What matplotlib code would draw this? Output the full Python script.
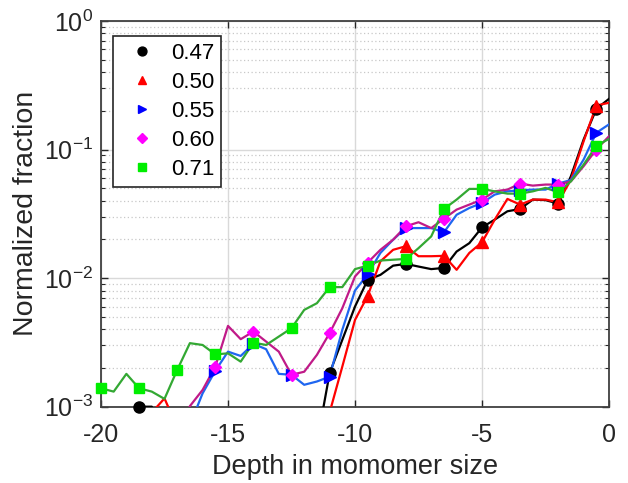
import numpy as np
import matplotlib
matplotlib.use("Agg")
import matplotlib.pyplot as plt

plt.rcParams['font.family'] = ['Liberation Sans', 'DejaVu Sans']
plt.rcParams['mathtext.fontset'] = 'custom'
plt.rcParams['mathtext.rm'] = 'Liberation Sans'
plt.rcParams['mathtext.it'] = 'Liberation Sans:italic'

nan = np.nan

# depth positions, every half monomer from -20 to 0
depth = np.arange(-20, 0.01, 0.5)

# normalized fractions (nan = not plotted)
f047 = [nan, nan, nan, 1.0e-3, 1.0e-3, 5e-4, nan, nan, nan, nan,
        nan, nan, nan, nan, nan, nan, nan, 5.2e-4, 1.82e-3, 3.31e-3,
        6.01e-3, 9.7e-3, 1.06e-2, 1.25e-2, 1.29e-2, 1.23e-2, 1.175e-2, 1.2e-2, 1.61e-2, 1.87e-2,
        2.48e-2, 2.85e-2, 3.31e-2, 3.45e-2, 4.08e-2, 4.04e-2, 3.8e-2, 6.2e-2, 0.1197, 0.207,
        0.248]
f050 = [nan, nan, nan, nan, 9e-4, 1.16e-3, 6.9e-4, nan, nan, nan,
        nan, nan, nan, nan, nan, nan, nan, nan, 9e-4, 2.05e-3,
        4.73e-3, 7.28e-3, 1.35e-2, 1.66e-2, 1.77e-2, 1.48e-2, 1.48e-2, 1.49e-2, 1.16e-2, 1.57e-2,
        1.9e-2, 2.85e-2, 4.13e-2, 3.73e-2, 4.08e-2, 4.08e-2, 3.89e-2, 5.84e-2, 0.116, 0.22,
        0.231]
f055 = [nan, nan, nan, nan, nan, nan, nan, 7.2e-4, 1.27e-3, 1.9e-3,
        2.68e-3, 2.48e-3, 3.08e-3, 2.8e-3, 1.8e-3, 1.77e-3, 1.48e-3, 1.57e-3, 1.71e-3, 3.96e-3,
        8.01e-3, 1.07e-2, 1.57e-2, 1.99e-2, 2.45e-2, 2.45e-2, 2.45e-2, 2.27e-2, 3.11e-2, 3.51e-2,
        3.84e-2, 4.46e-2, 4.73e-2, 4.82e-2, 4.88e-2, 4.88e-2, 5.43e-2, 5.8e-2, 8.36e-2, 0.135,
        0.157]
f060 = [nan, nan, nan, nan, nan, nan, 6e-4, 1.01e-3, 1.35e-3, 2.05e-3,
        4.25e-3, 3.35e-3, 3.84e-3, 3.21e-3, 2.68e-3, 1.77e-3, 1.87e-3, 2.53e-3, 3.73e-3, 5.83e-3,
        1.03e-2, 1.32e-2, 1.66e-2, 1.99e-2, 2.53e-2, 2.72e-2, 2.45e-2, 2.9e-2, 3.41e-2, 3.73e-2,
        4.08e-2, 4.73e-2, 4.88e-2, 5.43e-2, 5.24e-2, 5.34e-2, 5.34e-2, 5.66e-2, 7.42e-2, 0.1,
        0.127]
f071 = [1.39e-3, 1.31e-3, 1.8e-3, 1.39e-3, 1.31e-3, 1.15e-3, 1.93e-3, 3.12e-3, 3.02e-3, 2.55e-3,
        2.6e-3, 2.24e-3, 3.15e-3, 3.02e-3, 3.51e-3, 4.08e-3, 5.66e-3, 6.38e-3, 8.51e-3, 8.51e-3,
        1.175e-2, 1.25e-2, 1.37e-2, 1.39e-2, 1.41e-2, 1.71e-2, 2.11e-2, 3.45e-2, 4.08e-2, 4.94e-2,
        4.94e-2, 4.73e-2, 4.54e-2, 4.54e-2, 4.73e-2, 5.03e-2, 4.65e-2, 5.66e-2, 7.64e-2, 0.107,
        0.121]

labels = ['0.47', '0.50', '0.55', '0.60', '0.71']
series = [f047, f050, f055, f060, f071]
line_colors = ['black', 'red', '#1f66f0', '#c01a88', '#33a833']
marker_colors = ['black', 'red', 'blue', 'magenta', '#00ee00']
markers = ['o', '^', '>', 'D', 's']
msizes = [8, 8, 8, 6.5, 7]

fig = plt.figure(figsize=(6.28, 4.83), dpi=100)
ax = fig.add_axes([0.1608, 0.158, 0.809, 0.7986])

for vals, lc, mc, m, ms, lab in zip(series, line_colors, marker_colors, markers, msizes, labels):
    y = np.array(vals, dtype=float)
    ax.plot(depth, y, color=lc, lw=1.6, zorder=3)
    # markers every 1.5 monomer, only those inside the y range
    xm = depth[::3]
    ym = y[::3]
    ym = np.where(ym >= 1e-3, ym, nan)
    ax.plot(xm, ym, ls='none', marker=m, color=mc, ms=ms, mec=mc,
            clip_on=False, zorder=4, label=lab)

ax.set_yscale('log')
ax.set_xlim(-20, 0)
ax.set_ylim(1e-3, 1)
ax.set_xticks([-20, -15, -10, -5, 0])
ax.set_xticklabels(['-20', '-15', '-10', '-5', '0'])

ax.grid(True, which='major', color='#d9d9d9', lw=1.0, ls='-')
ax.grid(True, which='minor', axis='y', color='#c8c8c8', lw=0.9, ls=(0, (1, 2)))
ax.set_axisbelow(True)

ax.tick_params(which='both', direction='in', top=True, right=True, labelsize=18, colors='#262626')
ax.tick_params(which='major', length=5, width=1)
ax.tick_params(which='minor', length=3, width=0.8)
ax.tick_params(axis='x', pad=12)
ax.tick_params(axis='y', pad=6)
for s in ax.spines.values():
    s.set_color('#404040')
    s.set_linewidth(1.3)

ax.set_xlabel('Depth in momomer size', fontsize=19.5, color='#262626', labelpad=5)
ax.set_ylabel('Normalized fraction', fontsize=20.5, color='#262626', labelpad=3)

leg = ax.legend(loc='upper left', bbox_to_anchor=(0.023, 0.962), borderaxespad=0,
                fontsize=16, fancybox=False, edgecolor='#262626', framealpha=1,
                handlelength=2.0, handletextpad=0.3, labelspacing=0.36,
                borderpad=0.32, markerscale=0.8)
leg.get_frame().set_linewidth(1.2)

fig.savefig('out.png', dpi=100)
